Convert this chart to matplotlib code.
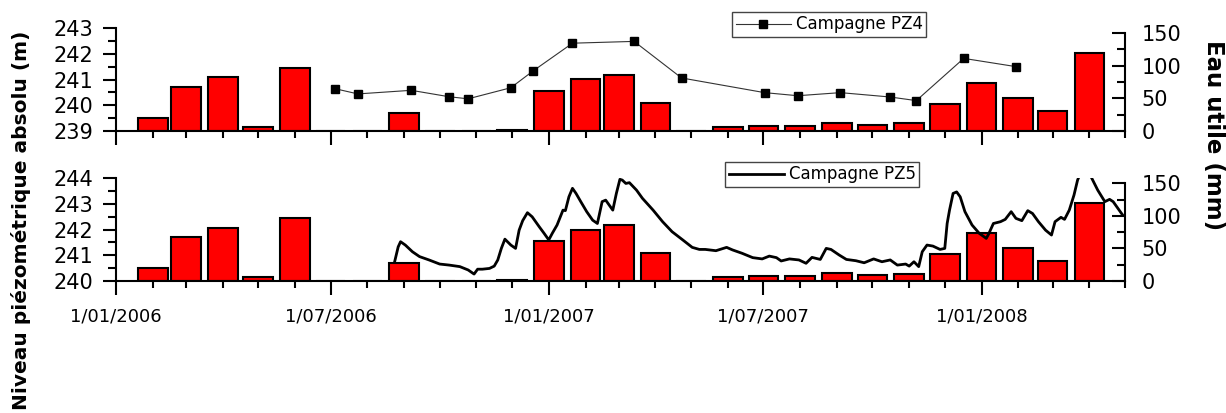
import matplotlib
matplotlib.use("Agg")
from matplotlib import pyplot as plt
from matplotlib import dates as mdates
from matplotlib.ticker import MultipleLocator, FuncFormatter
import pandas as pd

# monthly useful water (mm), bars centred on the first of each month
rain_months = ["2006-02-01", "2006-03-01", "2006-04-01", "2006-05-01", "2006-06-01",
               "2006-07-01", "2006-08-01", "2006-09-01", "2006-10-01", "2006-11-01",
               "2006-12-01", "2007-01-01", "2007-02-01", "2007-03-01", "2007-04-01",
               "2007-05-01", "2007-06-01", "2007-07-01", "2007-08-01", "2007-09-01",
               "2007-10-01", "2007-11-01", "2007-12-01", "2008-01-01", "2008-02-01",
               "2008-03-01", "2008-04-01"]
eau_utile = [20, 67, 82, 6.5, 97,
             0, 0, 27, 0, 0,
             1, 61, 79, 86.5, 43,
             0, 6.5, 8, 7, 12.5,
             9, 11.5, 41, 73, 50,
             31, 120]

# PZ4 campaign (manual readings)
pz4_dates = ["2006-07-05", "2006-07-24", "2006-09-07", "2006-10-09", "2006-10-25",
             "2006-11-30", "2006-12-19", "2007-01-21", "2007-03-14", "2007-04-23",
             "2007-07-02", "2007-07-30", "2007-09-04", "2007-10-16", "2007-11-07",
             "2007-12-17", "2008-01-30"]
pz4_level = [240.64, 240.44, 240.58, 240.33, 240.25,
             240.68, 241.34, 242.41, 242.48, 241.06,
             240.49, 240.37, 240.49, 240.32, 240.18,
             241.82, 241.50]

# PZ5 campaign (logger)
pz5_dates = ["2006-08-24", "2006-08-27", "2006-08-29", "2006-09-02", "2006-09-08",
             "2006-09-14", "2006-09-22", "2006-10-01", "2006-10-09", "2006-10-18",
             "2006-10-25", "2006-10-30", "2006-11-02", "2006-11-06", "2006-11-12",
             "2006-11-16", "2006-11-19", "2006-11-22", "2006-11-25", "2006-11-30",
             "2006-12-04", "2006-12-07", "2006-12-10", "2006-12-14", "2006-12-18",
             "2006-12-24", "2006-12-28", "2007-01-01", "2007-01-04", "2007-01-08",
             "2007-01-13", "2007-01-15", "2007-01-18", "2007-01-21", "2007-01-24",
             "2007-01-28", "2007-02-02", "2007-02-07", "2007-02-11", "2007-02-12",
             "2007-02-15", "2007-02-18", "2007-02-24", "2007-02-27", "2007-03-02",
             "2007-03-04", "2007-03-07", "2007-03-10", "2007-03-16", "2007-03-21",
             "2007-03-30", "2007-04-07", "2007-04-15", "2007-04-24", "2007-05-02",
             "2007-05-08", "2007-05-13", "2007-05-22", "2007-05-31", "2007-06-05",
             "2007-06-13", "2007-06-22", "2007-06-30", "2007-07-06", "2007-07-12",
             "2007-07-16", "2007-07-23", "2007-07-31", "2007-08-06", "2007-08-11",
             "2007-08-18", "2007-08-23", "2007-08-27", "2007-09-03", "2007-09-09",
             "2007-09-17", "2007-09-24", "2007-10-02", "2007-10-09", "2007-10-16",
             "2007-10-22", "2007-10-29", "2007-11-01", "2007-11-05", "2007-11-09",
             "2007-11-12", "2007-11-16", "2007-11-21", "2007-11-27", "2007-12-01",
             "2007-12-03", "2007-12-05", "2007-12-08", "2007-12-11", "2007-12-14",
             "2007-12-18", "2007-12-24", "2007-12-30", "2008-01-05", "2008-01-07",
             "2008-01-11", "2008-01-17", "2008-01-21", "2008-01-26", "2008-01-30",
             "2008-02-04", "2008-02-09", "2008-02-13", "2008-02-18", "2008-02-24",
             "2008-02-29", "2008-03-03", "2008-03-08", "2008-03-11", "2008-03-15",
             "2008-03-19", "2008-03-22", "2008-03-28", "2008-04-03", "2008-04-08",
             "2008-04-14", "2008-04-18", "2008-04-21", "2008-04-25", "2008-04-29"]
pz5_level = [240.75, 241.33, 241.53, 241.40, 241.14,
             240.95, 240.82, 240.66, 240.62, 240.56,
             240.43, 240.27, 240.46, 240.46, 240.49,
             240.58, 240.82, 241.27, 241.63, 241.40,
             241.27, 241.98, 242.35, 242.66, 242.50,
             242.11, 241.86, 241.60, 241.86, 242.18,
             242.76, 242.74, 243.28, 243.61, 243.41,
             243.09, 242.70, 242.37, 242.24, 242.45,
             243.09, 243.15, 242.76, 243.41, 243.96,
             243.93, 243.80, 243.83, 243.54, 243.22,
             242.76, 242.31, 241.92, 241.60, 241.31,
             241.23, 241.23, 241.18, 241.31, 241.21,
             241.08, 240.91, 240.86, 240.97, 240.91,
             240.78, 240.86, 240.82, 240.69, 240.92,
             240.84, 241.27, 241.23, 241.01, 240.84,
             240.79, 240.71, 240.86, 240.75, 240.82,
             240.62, 240.66, 240.58, 240.75, 240.56,
             241.14, 241.40, 241.36, 241.23, 241.27,
             242.24, 242.76, 243.41, 243.47, 243.28,
             242.70, 242.18, 241.86, 241.66, 241.83,
             242.24, 242.31, 242.40, 242.70, 242.44,
             242.35, 242.74, 242.63, 242.31, 241.98,
             241.79, 242.31, 242.48, 242.40, 242.76,
             243.35, 243.93, 244.60, 244.00, 243.54,
             243.09, 243.18, 243.09, 242.83, 242.57]

x_start, x_end = pd.Timestamp("2006-01-01"), pd.Timestamp("2008-05-01")

plt.rcParams["font.family"] = "DejaVu Sans"

W, H = 1226, 413
fig = plt.figure(figsize=(W / 100, H / 100), dpi=100)


def date_label(x, pos):
    d = mdates.num2date(x)
    return f"{d.day}/{d.month:02d}/{d.year}"


def make_panel(rect, ylim, show_dates):
    ax = fig.add_axes(rect)
    axr = ax.twinx()
    ax.set_zorder(axr.get_zorder() + 1)
    ax.patch.set_visible(False)

    axr.bar(pd.to_datetime(rain_months), eau_utile, width=25,
            color="#ff0000", edgecolor="black", linewidth=1.5, zorder=2)

    ax.set_xlim(x_start, x_end)
    ax.set_ylim(*ylim)
    axr.set_ylim(0, 157.7)

    for s in ["top", "right"]:
        ax.spines[s].set_visible(False)
    for s in ["top", "left", "bottom"]:
        axr.spines[s].set_visible(False)
    for s in ["left", "bottom"]:
        ax.spines[s].set_linewidth(1.5)
    axr.spines["right"].set_linewidth(1.5)
    axr.spines["right"].set_bounds(0, 150)

    ax.yaxis.set_major_locator(MultipleLocator(1))
    ax.yaxis.set_minor_locator(MultipleLocator(0.5))
    axr.yaxis.set_major_locator(MultipleLocator(50))
    axr.yaxis.set_minor_locator(MultipleLocator(25))
    ax.xaxis.set_major_locator(mdates.MonthLocator(bymonth=[1, 7]))
    ax.xaxis.set_minor_locator(mdates.MonthLocator())
    ax.xaxis.set_major_formatter(FuncFormatter(date_label))

    ax.tick_params(axis="y", which="major", direction="out", length=9.5,
                   width=1.5, labelsize=15, pad=7)
    ax.tick_params(axis="y", which="minor", direction="out", length=5.5, width=1.5)
    ax.tick_params(axis="x", which="major", direction="out", length=10,
                   width=1.5, labelsize=13, pad=9, labelbottom=show_dates)
    ax.tick_params(axis="x", which="minor", direction="out", length=5, width=1.5)
    axr.tick_params(axis="y", which="major", direction="in", length=9.5,
                    width=1.5, labelsize=15, pad=12)
    axr.tick_params(axis="y", which="minor", direction="in", length=5.5, width=1.5)
    return ax, axr


def add_legend(ax, right_px, top_px):
    ax.legend(loc="upper right", bbox_to_anchor=(right_px / W, 1 - top_px / H),
              bbox_transform=fig.transFigure, fontsize=12, frameon=True,
              fancybox=False, edgecolor="#444444", framealpha=1, borderpad=0.2,
              handlelength=3.3, handletextpad=0.3, borderaxespad=0)


left = 116 / W
width = (1125 - 116) / W

# top panel: PZ4
ax1, ax1r = make_panel([left, 1 - 131 / H, width, 103 / H], (239, 243), False)
ax1.plot(pd.to_datetime(pz4_dates), pz4_level, color="#333333", lw=0.8,
         marker="s", ms=6, mfc="black", mec="black", label="Campagne PZ4")
add_legend(ax1, 926, 12)

# bottom panel: PZ5
ax2, ax2r = make_panel([left, 1 - 281 / H, width, 102.7 / H], (240, 244), True)
ax2.plot(pd.to_datetime(pz5_dates), pz5_level, color="black", lw=2,
         label="Campagne PZ5")
add_legend(ax2, 919, 162)

fig.text(21 / W, 1 - 220 / H, "Niveau piézométrique absolu (m)", rotation=90,
         ha="center", va="center", fontsize=14.5, fontweight="bold")
fig.text(1213 / W, 1 - 135 / H, "Eau utile (mm)", rotation=270,
         ha="center", va="center", fontsize=16.5, fontweight="bold")

fig.savefig("out.png", dpi=100)
